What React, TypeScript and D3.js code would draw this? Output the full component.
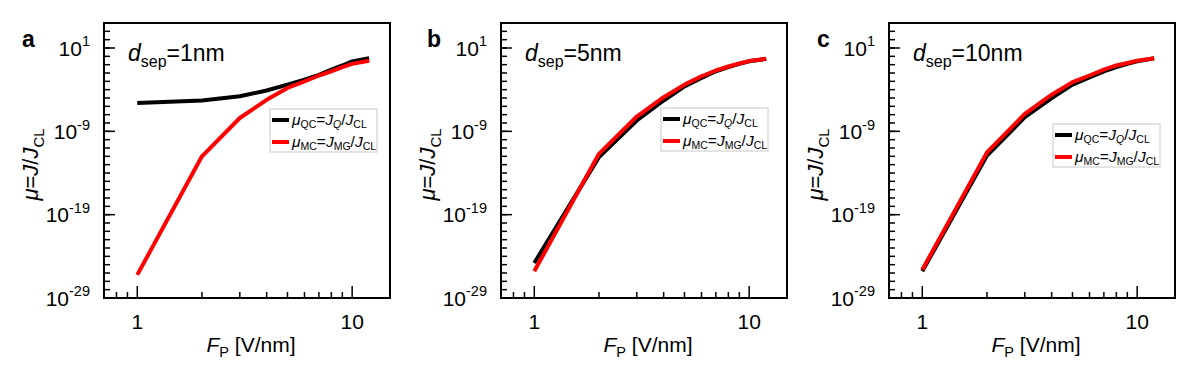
import React from "react";
import * as d3 from "d3";

const fieldValues = [1, 2, 3, 4, 5, 6, 7, 8, 9, 10, 12];

const muQC_1nm = [2.5e-6, 5e-6, 1.6e-5, 8e-5, 4e-4, 1.6e-3, 6e-3, 2.5e-2, 8e-2, 0.25, 0.6];
const muMC_1nm = [6e-27, 1e-12, 4e-8, 6e-6, 1.6e-4, 1e-3, 5e-3, 1.6e-2, 5e-2, 0.125, 0.3];

const muQC_5nm = [1.6e-25, 8e-13, 2e-8, 5e-6, 2.5e-4, 2.5e-3, 1.6e-2, 5e-2, 0.125, 0.25, 0.5];
const muMC_5nm = [1.6e-26, 2e-12, 6e-8, 1.25e-5, 4e-4, 4e-3, 2e-2, 6e-2, 0.14, 0.28, 0.5];

const muQC_10nm = [1.6e-26, 1.25e-12, 5e-8, 1e-5, 4e-4, 3e-3, 1.6e-2, 5e-2, 0.125, 0.25, 0.6];
const muMC_10nm = [2.5e-26, 3e-12, 1.25e-7, 2.5e-5, 8e-4, 5e-3, 2.5e-2, 8e-2, 0.16, 0.3, 0.6];

const panelLetters = ["a", "b", "c"];
const separations = ["1nm", "5nm", "10nm"];
const yMajorExponents = [1, -9, -19, -29];
const xMajorTicks = [1, 10];
const xMinorTicks = [0.8, 0.9, 2, 3, 4, 5, 6, 7, 8, 9];

const panels = [
  { letter: panelLetters[0], sep: separations[0], qc: muQC_1nm, mc: muMC_1nm, left: 104, letterX: 22, legX: 270, legY: 109 },
  { letter: panelLetters[1], sep: separations[1], qc: muQC_5nm, mc: muMC_5nm, left: 501, letterX: 427, legX: 661, legY: 108 },
  { letter: panelLetters[2], sep: separations[2], qc: muQC_10nm, mc: muMC_10nm, left: 889, letterX: 817, legX: 1053, legY: 124 },
];

const TOP = 23;
const W = 286;
const H = 275;
const FONT = "'Liberation Sans', Arial, sans-serif";
const RED = "#ff0000";

function Panel({ p }: { p: (typeof panels)[number] }) {
  const x = d3.scaleLog().domain([0.7, 15]).range([p.left, p.left + W]);
  const y = d3.scaleLog().domain([1e-29, 1e4]).range([TOP + H, TOP]);
  const line = d3
    .line<number>()
    .x((_, i) => x(fieldValues[i]))
    .y((v) => y(v));
  const yMinor = d3.range(-29, 5).map((e) => Math.pow(10, e));
  const bottom = TOP + H;
  const cx = p.left + W / 2 + 4;
  return (
    <g>
      <path d={line(p.qc) || ""} fill="none" stroke="#000" strokeWidth={4} strokeLinejoin="round" />
      <path d={line(p.mc) || ""} fill="none" stroke={RED} strokeWidth={4} strokeLinejoin="round" />
      <rect x={p.left} y={TOP} width={W} height={H} fill="none" stroke="#000" strokeWidth={2} />
      {yMinor.map((v, i) => (
        <line key={"ym" + i} x1={p.left} x2={p.left + 6} y1={y(v)} y2={y(v)} stroke="#000" strokeWidth={1.5} />
      ))}
      {yMajorExponents.map((e) => (
        <g key={"yM" + e}>
          <line x1={p.left} x2={p.left + 11} y1={y(Math.pow(10, e))} y2={y(Math.pow(10, e))} stroke="#000" strokeWidth={1.5} />
          <text x={p.left - 14} y={y(Math.pow(10, e)) + 7.8} textAnchor="end" fontFamily={FONT} fontSize={21}>
            10
            <tspan dy={-9.5} fontSize={14.5}>{String(e)}</tspan>
          </text>
        </g>
      ))}
      {xMinorTicks.map((v) => (
        <line key={"xm" + v} x1={x(v)} x2={x(v)} y1={bottom} y2={bottom - 6} stroke="#000" strokeWidth={1.5} />
      ))}
      {xMajorTicks.map((v) => (
        <g key={"xM" + v}>
          <line x1={x(v)} x2={x(v)} y1={bottom} y2={bottom - 12} stroke="#000" strokeWidth={1.5} />
          <text x={x(v)} y={bottom + 31} textAnchor="middle" fontFamily={FONT} fontSize={21}>
            {String(v)}
          </text>
        </g>
      ))}
      <text x={cx} y={352} textAnchor="middle" fontFamily={FONT} fontSize={21}>
        <tspan fontStyle="italic">F</tspan>
        <tspan dy={5} fontSize={14.5}>P</tspan>
        <tspan dy={-5}> [V/nm]</tspan>
      </text>
      <text
        transform={`translate(${p.left - 66},${TOP + H / 2 + 4}) rotate(-90)`}
        textAnchor="middle"
        fontFamily={FONT}
        fontSize={22}
      >
        <tspan fontStyle="italic">μ</tspan>
        <tspan>=</tspan>
        <tspan fontStyle="italic">J</tspan>
        <tspan>/</tspan>
        <tspan fontStyle="italic">J</tspan>
        <tspan dy={6} fontSize={15}>CL</tspan>
      </text>
      <text x={p.letterX} y={47} fontFamily={FONT} fontSize={23} fontWeight="bold">
        {p.letter}
      </text>
      <text x={p.left + 24} y={61} fontFamily={FONT} fontSize={23}>
        <tspan fontStyle="italic">d</tspan>
        <tspan dy={6} fontSize={16}>sep</tspan>
        <tspan dy={-6}>={p.sep}</tspan>
      </text>
      <g transform={`translate(${p.legX},${p.legY})`}>
        <rect x={0} y={0} width={107} height={43} fill="#fff" stroke="#c8c8c8" strokeWidth={1} />
        <line x1={2} x2={19} y1={11} y2={11} stroke="#000" strokeWidth={4} />
        <line x1={2} x2={19} y1={33} y2={33} stroke={RED} strokeWidth={4} />
        <text x={22} y={16} fontFamily={FONT} fontSize={15.5}>
          <tspan fontStyle="italic">μ</tspan>
          <tspan dy={3} fontSize={10.5}>QC</tspan>
          <tspan dy={-3}>=</tspan>
          <tspan fontStyle="italic">J</tspan>
          <tspan dy={3} fontSize={10.5} fontStyle="italic">Q</tspan>
          <tspan dy={-3}>/</tspan>
          <tspan fontStyle="italic">J</tspan>
          <tspan dy={3} fontSize={10.5}>CL</tspan>
        </text>
        <text x={22} y={38} fontFamily={FONT} fontSize={15.5}>
          <tspan fontStyle="italic">μ</tspan>
          <tspan dy={3} fontSize={10.5}>MC</tspan>
          <tspan dy={-3}>=</tspan>
          <tspan fontStyle="italic">J</tspan>
          <tspan dy={3} fontSize={10.5}>MG</tspan>
          <tspan dy={-3}>/</tspan>
          <tspan fontStyle="italic">J</tspan>
          <tspan dy={3} fontSize={10.5}>CL</tspan>
        </text>
      </g>
    </g>
  );
}

export default function App() {
  return (
    <svg
      width={1194}
      height={377}
      viewBox="0 0 1194 377"
      style={{ position: "absolute", left: 0, top: 0, background: "#fff" }}
    >
      <rect x={0} y={0} width={1194} height={377} fill="#fff" />
      {panels.map((p) => (
        <Panel key={p.letter} p={p} />
      ))}
    </svg>
  );
}
